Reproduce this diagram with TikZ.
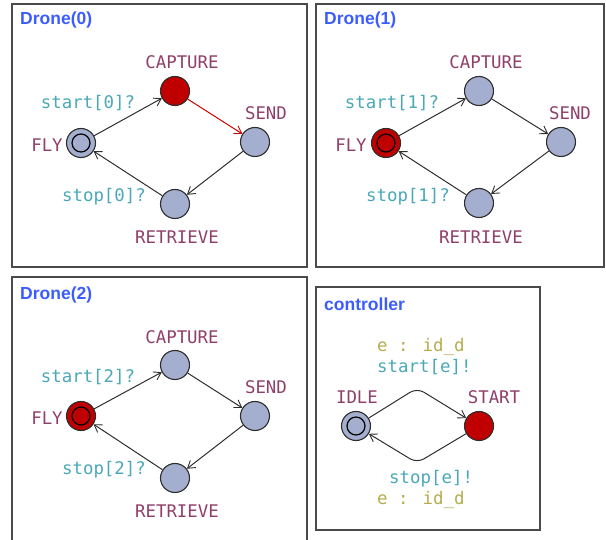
\documentclass[tikz,border=0pt]{standalone}
\usepackage{fontspec}
\setmainfont{Liberation Sans}
\newfontfamily\monof{DejaVu Sans Mono}
\usetikzlibrary{arrows.meta}
\definecolor{locname}{HTML}{8F3F6A}
\definecolor{synccol}{HTML}{4AA8B8}
\definecolor{selcol}{HTML}{B5AC4E}
\definecolor{titlecol}{HTML}{3B5CFF}
\definecolor{locfill}{HTML}{A4AECE}
\definecolor{redfill}{HTML}{C00000}
\definecolor{edgecol}{HTML}{2E2E2E}
\definecolor{framecol}{HTML}{4A4A4A}
\tikzset{
  x=1pt, y=-1pt,
  panel/.style={draw=framecol, line width=1.1pt},
  ptitle/.style={font=\fontsize{17.5}{17.5}\selectfont\bfseries, text=titlecol, anchor=west, inner sep=0pt},
  loc/.style={circle, draw=edgecol, line width=1.1pt, fill=locfill, minimum size=29pt, inner sep=0pt},
  redloc/.style={loc, fill=redfill},
  lname/.style={font=\monof\fontsize{17.4}{17.4}\selectfont, text=locname, inner sep=0pt},
  sync/.style={font=\monof\fontsize{17.4}{17.4}\selectfont, text=synccol, inner sep=0pt},
  sel/.style={font=\monof\fontsize{17.4}{17.4}\selectfont, text=selcol, inner sep=0pt},
  edge/.style={draw=edgecol, line width=1pt, -{Straight Barb[length=7pt,width=9pt,line width=0.9pt]}},
  redge/.style={edge, draw=red!80!black},
  inner/.style={circle, draw=black, line width=1.2pt, minimum size=18pt, inner sep=0pt}
}
\begin{document}
\begin{tikzpicture}
\useasboundingbox (0,0) rectangle (606,540);
% ---------- Drone(0)
\draw[panel] (12,4) rectangle (307,267);
\node[ptitle] (t0) at (20,20) {Drone(0)};
\node[redloc] (cap0) at (175,91) {};
\node[loc] (snd0) at (255,142) {};
\node[loc] (fly0) at (81,143) {};
\node[inner] (fly0i) at (fly0) {};
\node[loc] (ret0) at (175,204) {};
\node[lname] (cap0l) at (182,62) {CAPTURE};
\node[lname] (snd0l) at (266,113) {SEND};
\node[lname] (fly0l) at (47,145) {FLY};
\node[lname] (ret0l) at (177,237) {RETRIEVE};
\draw[edge] (fly0) -- (cap0);
\draw[redge] (cap0) -- (snd0);
\draw[edge] (snd0) -- (ret0);
\draw[edge] (ret0) -- (fly0);
\node[sync] (s0) at (88,103) {start[0]?};
\node[sync] (p0) at (104,197) {stop[0]?};
% ---------- Drone(1)
\draw[panel] (316,4) rectangle (604,267);
\node[ptitle] (t1) at (324,20) {Drone(1)};
\node[loc] (cap1) at (479,91) {};
\node[loc] (snd1) at (561,142) {};
\node[redloc] (fly1) at (386,143) {};
\node[inner] (fly1i) at (fly1) {};
\node[loc] (ret1) at (479,203) {};
\node[lname] (cap1l) at (486,62) {CAPTURE};
\node[lname] (snd1l) at (570,113) {SEND};
\node[lname] (fly1l) at (351,145) {FLY};
\node[lname] (ret1l) at (481,237) {RETRIEVE};
\draw[edge] (fly1) -- (cap1);
\draw[edge] (cap1) -- (snd1);
\draw[edge] (snd1) -- (ret1);
\draw[edge] (ret1) -- (fly1);
\node[sync] (s1) at (392,103) {start[1]?};
\node[sync] (p1) at (408,197) {stop[1]?};
% ---------- Drone(2)
\draw[panel] (12,541) -- (12,277) -- (307,277) -- (307,541);
\node[ptitle] (t2) at (20,295) {Drone(2)};
\node[loc] (cap2) at (175,365) {};
\node[loc] (snd2) at (255,416) {};
\node[redloc] (fly2) at (81,416) {};
\node[inner] (fly2i) at (fly2) {};
\node[loc] (ret2) at (175,478) {};
\node[lname] (cap2l) at (182,337) {CAPTURE};
\node[lname] (snd2l) at (266,387) {SEND};
\node[lname] (fly2l) at (47,418) {FLY};
\node[lname] (ret2l) at (177,511) {RETRIEVE};
\draw[edge] (fly2) -- (cap2);
\draw[edge] (cap2) -- (snd2);
\draw[edge] (snd2) -- (ret2);
\draw[edge] (ret2) -- (fly2);
\node[sync] (s2) at (88,377) {start[2]?};
\node[sync] (p2) at (104,470) {stop[2]?};
% ---------- controller
\draw[panel] (316,287) rectangle (540,530);
\node[ptitle] (t3) at (324,304) {controller};
\node[loc] (idle) at (356,426) {};
\node[inner] (idlei) at (idle) {};
\node[redloc] (start) at (479,426) {};
\node[lname] (idlel) at (357,397) {IDLE};
\node[lname] (startl) at (494,397) {START};
\coordinate (nt) at (417,388);
\coordinate (nb) at (417,463);
\draw[edge, rounded corners=8pt] (idle) -- (nt) -- (start);
\draw[edge, rounded corners=8pt] (start) -- (nb) -- (idle);
\node[sel, anchor=west] (e1) at (377,347) {e : id\_d};
\node[sync, anchor=west] (se) at (377,367) {start[e]!};
\node[sync, anchor=west] (pe) at (389,479) {stop[e]!};
\node[sel, anchor=west] (e2) at (377,500) {e : id\_d};
\end{tikzpicture}
\end{document}
